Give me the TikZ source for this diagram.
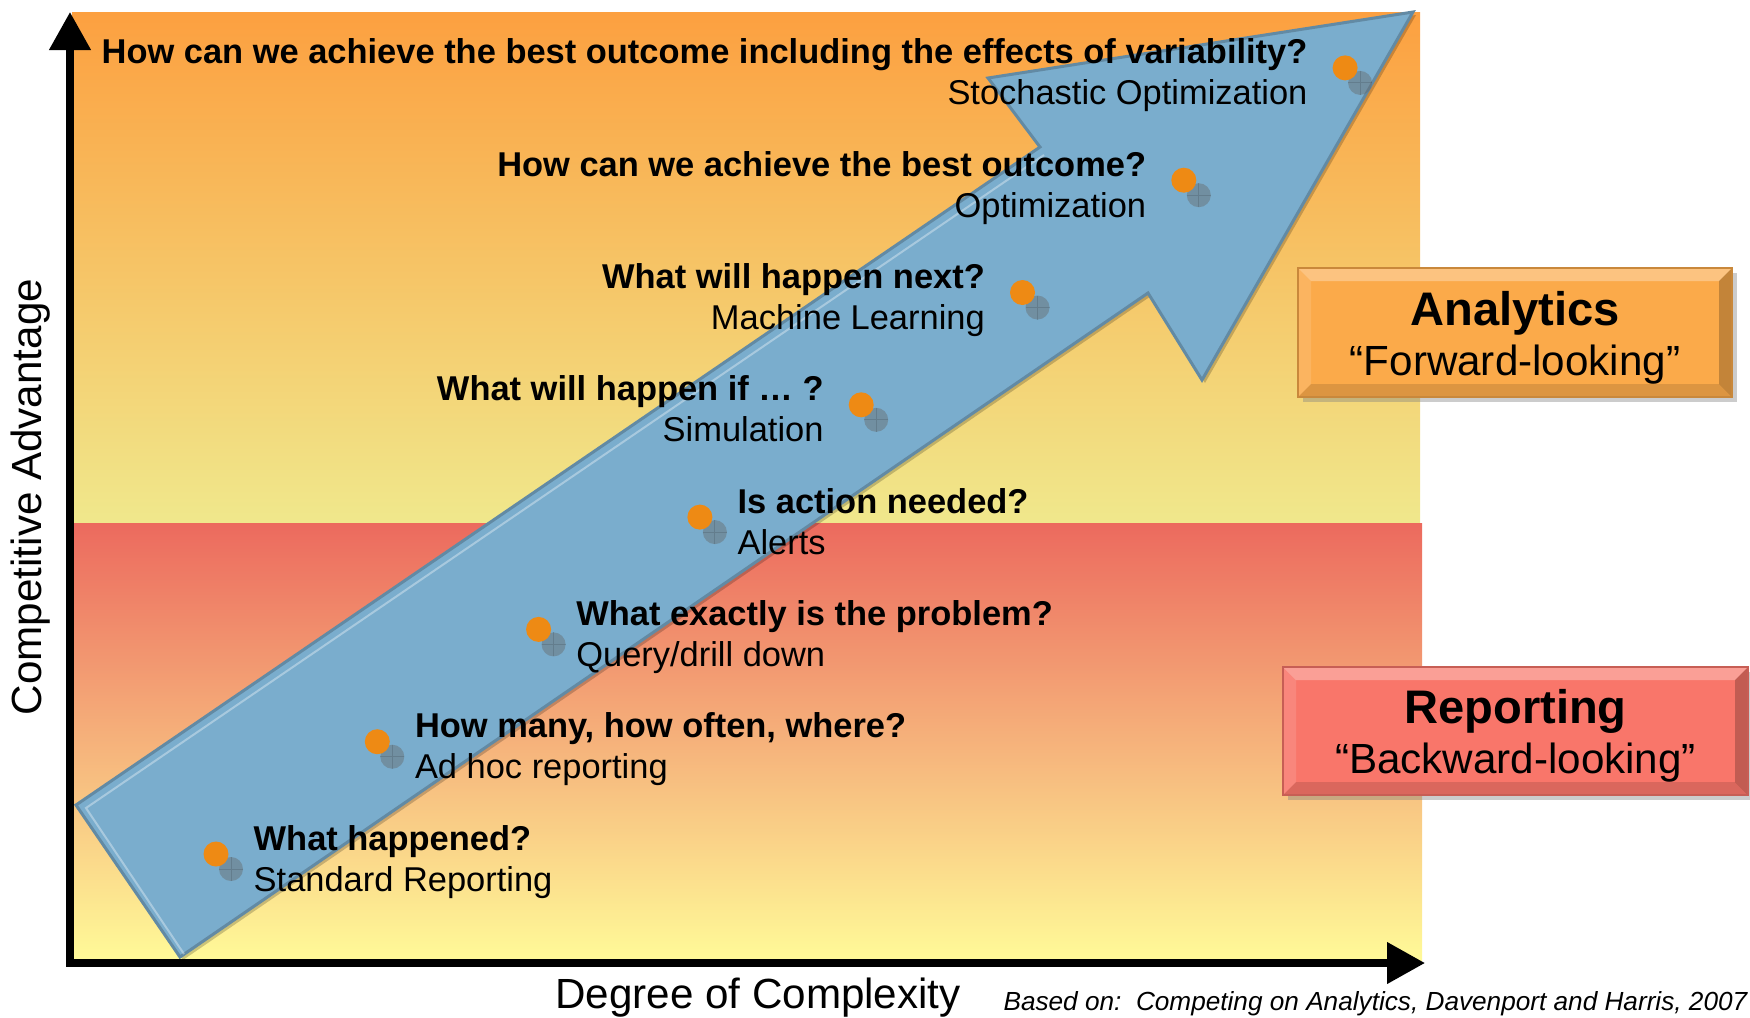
\documentclass[tikz,border=0pt]{standalone}
\usepackage{fontspec}
\setmainfont{Liberation Sans}
\usetikzlibrary{positioning,arrows.meta,calc,shadows}

\definecolor{upTop}{RGB}{252,160,64}
\definecolor{upBot}{RGB}{240,232,140}
\definecolor{loTop}{RGB}{236,106,94}
\definecolor{loBot}{RGB}{255,250,152}
\definecolor{arrowblue}{RGB}{122,173,205}
\definecolor{dotorange}{RGB}{238,138,20}
\definecolor{anaorange}{RGB}{251,170,74}
\definecolor{repred}{RGB}{249,118,106}

\begin{document}
\begin{tikzpicture}[x=0.1mm,y=-0.1mm,>={Triangle[length=3.8mm,width=4mm]},
  qtext/.style={inner sep=0pt,font=\fontsize{9.8}{12}\selectfont\bfseries},
  stext/.style={inner sep=0pt,font=\fontsize{9.8}{12}\selectfont},
  bevel/.style={path picture={
    \path (path picture bounding box.north west) coordinate (bnw)
          (path picture bounding box.north east) coordinate (bne)
          (path picture bounding box.south west) coordinate (bsw)
          (path picture bounding box.south east) coordinate (bse);
    \fill[white,opacity=.3] (bnw) -- (bne) -- ([shift={(-1.3mm,-1.3mm)}]bne) -- ([shift={(1.3mm,-1.3mm)}]bnw) -- cycle;
    \fill[white,opacity=.12] (bnw) -- (bsw) -- ([shift={(1.3mm,1.3mm)}]bsw) -- ([shift={(1.3mm,-1.3mm)}]bnw) -- cycle;
    \fill[black,opacity=.22] (bne) -- (bse) -- ([shift={(-1.3mm,1.3mm)}]bse) -- ([shift={(-1.3mm,-1.3mm)}]bne) -- cycle;
    \fill[black,opacity=.12] (bsw) -- (bse) -- ([shift={(-1.3mm,1.3mm)}]bse) -- ([shift={(1.3mm,1.3mm)}]bsw) -- cycle;}},
  tagbox/.style={fill=#1,draw=#1!80!black,line width=0.25mm,inner sep=0pt,align=center,
    font=\fontsize{12}{14.2}\selectfont,bevel,
    drop shadow={opacity=.4,shadow xshift=.5mm,shadow yshift=-.5mm}}]
  \useasboundingbox (0,0) rectangle (1750,1017);

  % backgrounds
  \shade[top color=upTop,bottom color=upBot] (72,12) rectangle (1420,523);
  \shade[top color=loTop,bottom color=loBot] (72,523) rectangle (1422,960);

  % big arrow
  \fill[black,opacity=.2,shift={(3,3)}] (76,805) -- (1040,147) -- (988,78) -- (1413,12)
    -- (1202,380) -- (1148,293) -- (180,957) -- cycle;
  \filldraw[fill=arrowblue,draw=arrowblue!80!black,line width=0.3mm] (76,805) -- (1040,147)
    -- (988,78) -- (1413,12) -- (1202,380) -- (1148,293) -- (180,957) -- cycle;
  \draw[white,opacity=.35,line width=0.2mm,shift={(4,2)}] (180,952) -- (82,806) -- (1040,153);

  \foreach \i in {0,...,7} {
    \coordinate (d\i) at ({216+161.3*\i},{854-112.3*\i});
    \fill[black!60,opacity=.42] ($(d\i)+(15,15)$) circle[radius=1.2mm];
    \draw[black,opacity=.12,line width=.1mm] ($(d\i)+(3,15)$) -- ($(d\i)+(27,15)$)
      ($(d\i)+(15,3)$) -- ($(d\i)+(15,27)$);
    \fill[dotorange] (d\i) circle[radius=1.25mm];
  }

  \foreach \i/\side/\dx/\q/\s in {
      0/west/37/{What happened?}/{Standard Reporting},
      1/west/37/{How many, how often, where?}/{Ad hoc reporting},
      2/west/37/{What exactly is the problem?}/{Query/drill down},
      3/west/37/{Is action needed?}/{Alerts},
      4/east/-37/{What will happen if … ?}/{Simulation},
      5/east/-37/{What will happen next?}/{Machine Learning},
      6/east/-37/{How can we achieve the best outcome?}/{Optimization},
      7/east/-37/{How can we achieve the best outcome including the effects of variability?}/{Stochastic Optimization}} {
    \node[qtext,anchor=base \side] (q\i) at ($(d\i)+(\dx,-4)$) {\q};
    \node[stext,anchor=base \side] (s\i) at ($(q\i.base \side)+(0,41)$) {\s};
  }

  \node[tagbox=anaorange,minimum width=43.4mm,minimum height=12.9mm] (analytics) at (1515,332.5)
    {\rule{0pt}{12.5pt}{\fontsize{13.4}{14.2}\selectfont\bfseries Analytics}\\“Forward-looking”};
  \node[tagbox=repred,minimum width=46.5mm,minimum height=12.8mm] (reporting) at (1515.5,731)
    {\rule{0pt}{12.5pt}{\fontsize{13.4}{14.2}\selectfont\bfseries Reporting}\\“Backward-looking”};

  % axes
  \coordinate (origin) at (70,963);
  \coordinate (ytip) at (70,12);
  \coordinate (xtip) at (1425,963);
  \draw[line width=0.75mm,<->] (ytip) -- (origin) -- (xtip);
  \node[rotate=90,font=\fontsize{12}{14}\selectfont] (ylab) at (31,497) {Competitive Advantage};
  \node[anchor=base,inner sep=0pt,font=\fontsize{12}{14}\selectfont] (xlab) at (758,1008) {Degree of Complexity};
  \node[anchor=base east,inner sep=0pt,font=\fontsize{7.45}{9}\selectfont\itshape] (src) at (1748,1010)
    {Based on:\ \ Competing on Analytics, Davenport and Harris, 2007};
\end{tikzpicture}
\end{document}
